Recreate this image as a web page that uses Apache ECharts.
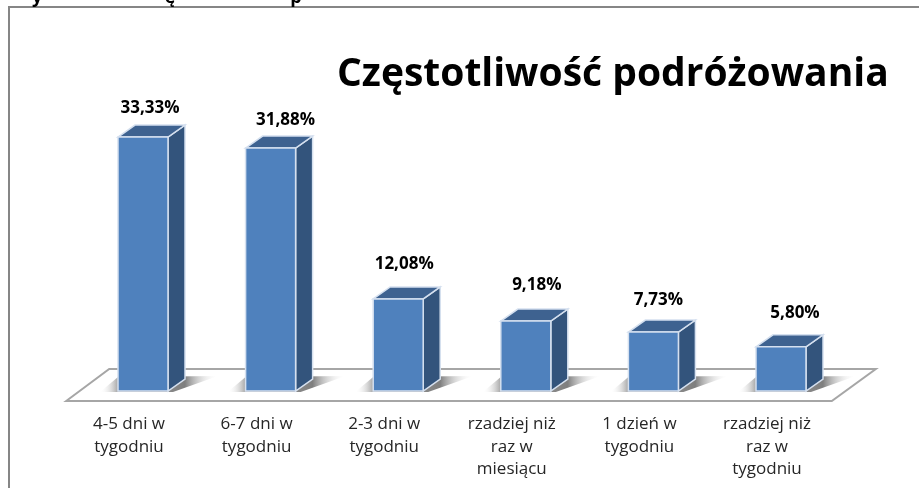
<!DOCTYPE html>
<html>
<head>
<meta charset="utf-8">
<title>Częstotliwość podróżowania</title>
<script src="https://cdn.jsdelivr.net/npm/echarts@6/dist/echarts.min.js"></script>
<style>
  html, body { margin: 0; padding: 0; background: #fff; }
  #chart { width: 919px; height: 488px; }
</style>
</head>
<body>
<div id="chart"></div>
<script>
var categories = [
  "4-5 dni w\ntygodniu",
  "6-7 dni w\ntygodniu",
  "2-3 dni w\ntygodniu",
  "rzadziej niż\nraz w\nmiesiącu",
  "1 dzień w\ntygodniu",
  "rzadziej niż\nraz w\ntygodniu"
];
var values = [33.33, 31.88, 12.08, 9.18, 7.73, 5.8];
var valueLabels = ["33,33%", "31,88%", "12,08%", "9,18%", "7,73%", "5,80%"];

// przesuniecia etykiet wzgledem srodka slupka
var labelDx = [7, 15, 6, 11, 5, 14];
var labelDy = [29, 28, 35, 36, 32, 34];

var font = '"Open Sans", sans-serif';
var depthX = 17;
var depthY = 12;

var myChart = echarts.init(document.getElementById("chart"));

function renderFloor(params, api) {
  var c = params.coordSys;
  var bottom = c.y + c.height;
  // podloga wyliczona z obszaru siatki
  return {
    type: "polygon",
    shape: {
      points: [
        [c.x - 13, bottom + 10],
        [c.x + 30, bottom - 22],
        [c.x + c.width + 31, bottom - 22],
        [c.x + c.width - 13, bottom + 10]
      ]
    },
    style: { fill: "#fff", stroke: "#a6a6a6", lineWidth: 2 }
  };
}

function renderBar(params, api) {
  var i = api.value(0);
  var top = api.coord([i, api.value(1)]);
  var base = api.coord([i, 0]);
  var w = api.size([1, 0])[0] * 0.392;
  var l = top[0] - w / 2;
  var r = top[0] + w / 2;
  var edge = { stroke: "#d5e0ef", lineWidth: 1.5 };
  return {
    type: "group",
    children: [
      // cien na podlodze
      {
        type: "polygon",
        shape: { points: [[l - 18, base[1] + 1], [l, base[1] - 14], [r + 50, base[1] - 15], [r + 5, base[1] + 1]] },
        style: {
          fill: new echarts.graphic.LinearGradient(0, 0, 1, 0, [
            { offset: 0, color: "rgba(255,255,255,0)" },
            { offset: 0.15, color: "#a8a8a8" },
            { offset: 0.72, color: "#7f7f7f" },
            { offset: 1, color: "rgba(255,255,255,0)" }
          ])
        }
      },
      {
        type: "polygon",
        shape: { points: [[r, top[1]], [r + depthX, top[1] - depthY], [r + depthX, base[1] - depthY], [r, base[1]]] },
        style: Object.assign({ fill: "#33547c" }, edge)
      },
      {
        type: "polygon",
        shape: { points: [[l, top[1]], [l + depthX, top[1] - depthY], [r + depthX, top[1] - depthY], [r, top[1]]] },
        style: Object.assign({ fill: "#3e6290" }, edge)
      },
      {
        type: "rect",
        shape: { x: l, y: top[1], width: w, height: base[1] - top[1] },
        style: Object.assign({ fill: "#4f81bd" }, edge)
      },
      {
        type: "text",
        x: top[0] + labelDx[i],
        y: top[1] - labelDy[i],
        style: {
          text: valueLabels[i],
          fill: "#000",
          font: "bold 17px " + font,
          align: "center",
          verticalAlign: "middle"
        }
      }
    ]
  };
}

// obciete litery nad ramka
function cutGlyph(ch, x) {
  return {
    type: "text",
    x: x,
    y: -2,
    style: { text: ch, fill: "#000", font: "bold 18px " + font, align: "center", verticalAlign: "middle" }
  };
}

var option = {
  animation: false,
  backgroundColor: "#fff",
  title: {
    text: "Częstotliwość podróżowania",
    left: 332,
    top: 50,
    textStyle: { fontFamily: font, fontWeight: "bold", fontSize: 39, color: "#000" }
  },
  grid: { left: 79.2, right: 74.2, top: 124.3, bottom: 97 },
  xAxis: {
    type: "category",
    data: categories,
    axisLine: { show: false },
    axisTick: { show: false },
    axisLabel: {
      interval: 0,
      margin: 22,
      padding: [0, 28, 0, 0],
      fontFamily: font,
      fontSize: 17,
      lineHeight: 22.5,
      color: "#262626"
    }
  },
  yAxis: { type: "value", min: 0, max: 35, show: false },
  graphic: [
    {
      type: "polyline",
      shape: { points: [[9, 488], [9, 7], [919, 7]] },
      style: { fill: null, stroke: "#868686", lineWidth: 2 }
    },
    cutGlyph("y", 37),
    cutGlyph("ę", 170),
    cutGlyph("p", 296)
  ],
  series: [
    { type: "custom", name: "podloga", renderItem: renderFloor, data: [[0, 0]], silent: true, z: 1 },
    {
      type: "custom",
      name: "Częstotliwość",
      renderItem: renderBar,
      encode: { x: 0, y: 1 },
      data: values.map(function (v, i) { return [i, v]; }),
      z: 2
    }
  ]
};
myChart.setOption(option);
</script>
</body>
</html>
